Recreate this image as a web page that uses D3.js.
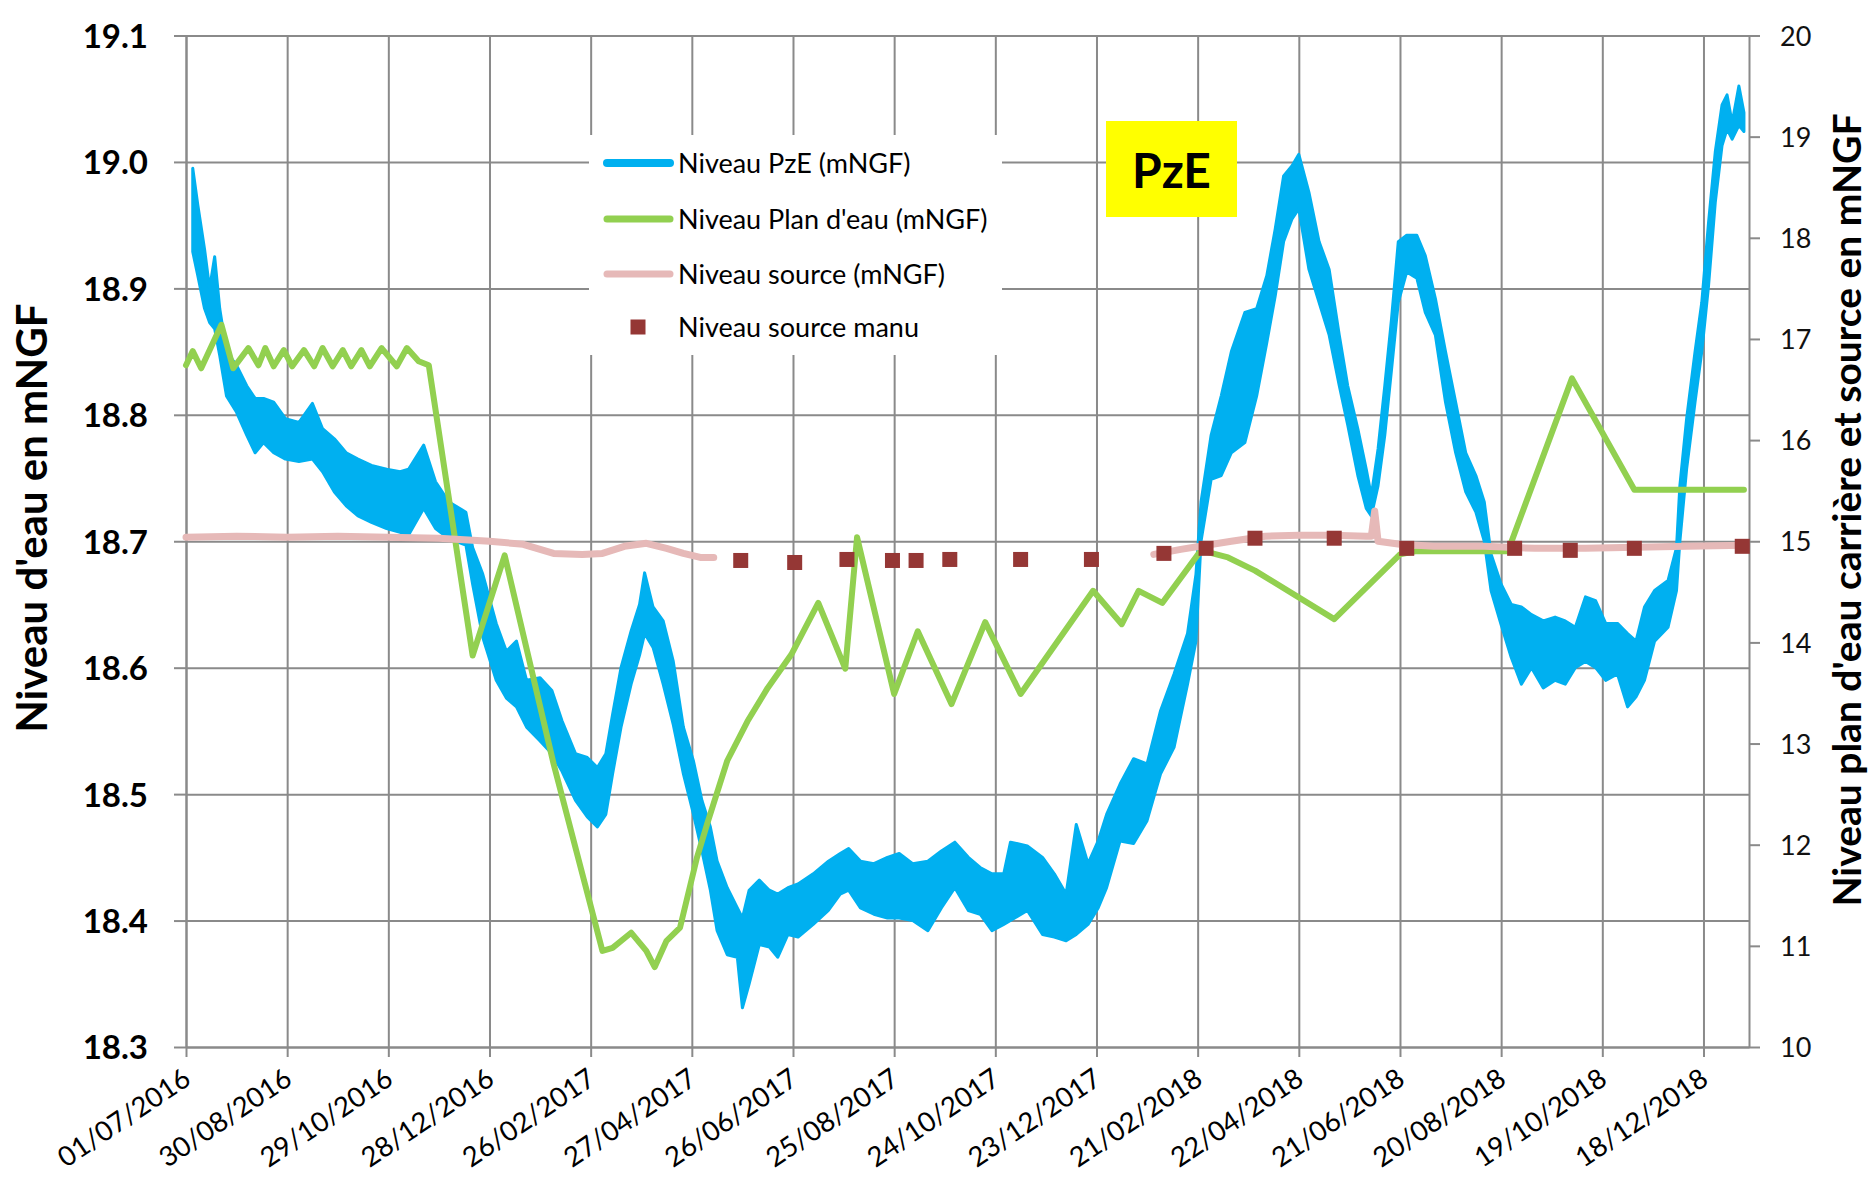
<!DOCTYPE html>
<html><head><meta charset="utf-8">
<script src="https://cdn.jsdelivr.net/npm/d3@7"></script>
<style>
html,body{margin:0;padding:0;background:#fff;}
svg{display:block;font-family:Lato,"Open Sans",sans-serif;}
</style></head>
<body>
<svg id="chart" width="1868" height="1177"></svg>
<script>
// ---------- data ----------
const startDate = "2016-07-01";   // day 0 of the day-offset arrays
const endDate = "2019-01-14";
const xTickLabels = ["01/07/2016","30/08/2016","29/10/2016","28/12/2016","26/02/2017","27/04/2017","26/06/2017","25/08/2017","24/10/2017","23/12/2017","21/02/2018","22/04/2018","21/06/2018","20/08/2018","19/10/2018","18/12/2018"];
const leftTicks = [18.3,18.4,18.5,18.6,18.7,18.8,18.9,19.0,19.1];
const rightTicks = [10,11,12,13,14,15,16,17,18,19,20];

// Niveau PzE : dense noisy record, given as upper / lower edge of the trace (days since start)
const pzeDay = [4,7,11,14,17,20,24,30,36,41,46,52,59,67,75,81,88,95,102,110,119,127,132,141,148,156,166,170,176,184,190,196,202,210,217,223,231,238,244,249,253,258,264,269,272,277,283,289,295,301,306,311,315,321,327,330,334,340,346,351,357,363,372,381,388,393,400,408,416,423,431,440,448,456,464,471,478,485,489,499,508,515,522,528,535,541,546,554,562,570,578,586,594,599,602,608,614,620,628,635,641,646,651,656,660,666,672,678,684,689,695,700,703,707,711,715,719,724,730,735,741,747,753,759,765,770,774,780,786,792,798,805,812,818,824,830,836,842,849,855,860,865,871,879,884,886,890,895,899,903,907,911,914,917,921,924];
const pzeHigh = [18.995,18.966,18.931,18.900,18.925,18.884,18.850,18.839,18.823,18.813,
18.813,18.810,18.797,18.794,18.809,18.789,18.781,18.770,18.765,18.760,
18.757,18.755,18.757,18.776,18.747,18.731,18.723,18.695,18.674,18.635,
18.613,18.621,18.590,18.592,18.582,18.558,18.532,18.529,18.521,18.532,
18.563,18.600,18.629,18.650,18.675,18.648,18.637,18.605,18.553,18.526,
18.495,18.474,18.447,18.426,18.410,18.402,18.424,18.432,18.424,18.421,
18.426,18.429,18.437,18.447,18.453,18.457,18.447,18.445,18.450,18.453,
18.445,18.447,18.455,18.462,18.450,18.442,18.437,18.437,18.462,18.459,
18.450,18.437,18.421,18.476,18.445,18.463,18.484,18.508,18.528,18.524,
18.566,18.595,18.627,18.674,18.731,18.784,18.815,18.850,18.881,18.884,
18.910,18.947,18.989,18.997,19.006,18.976,18.937,18.915,18.863,18.823,
18.789,18.757,18.736,18.773,18.823,18.876,18.937,18.942,18.942,18.926,
18.892,18.850,18.810,18.770,18.752,18.731,18.690,18.666,18.650,18.648,
18.642,18.637,18.640,18.637,18.632,18.656,18.653,18.635,18.635,18.627,
18.621,18.648,18.661,18.669,18.695,18.744,18.797,18.850,18.889,18.952,
19.008,19.045,19.053,19.031,19.060,19.039];
const pzeLow = [18.929,18.910,18.884,18.873,18.868,18.847,18.815,18.802,18.784,18.770,
18.778,18.770,18.765,18.763,18.765,18.755,18.739,18.728,18.720,18.715,
18.710,18.707,18.705,18.726,18.710,18.702,18.697,18.666,18.624,18.590,
18.576,18.569,18.553,18.542,18.532,18.518,18.495,18.482,18.474,18.484,
18.516,18.553,18.587,18.610,18.627,18.616,18.587,18.555,18.516,18.484,
18.455,18.424,18.392,18.373,18.371,18.331,18.350,18.381,18.379,18.371,
18.389,18.387,18.397,18.408,18.421,18.424,18.410,18.405,18.402,18.402,
18.400,18.392,18.410,18.426,18.408,18.405,18.392,18.397,18.400,18.408,
18.389,18.387,18.384,18.389,18.397,18.410,18.426,18.463,18.461,18.479,
18.516,18.537,18.587,18.621,18.700,18.749,18.752,18.770,18.778,18.815,
18.857,18.894,18.937,18.955,18.963,18.915,18.889,18.863,18.823,18.792,
18.752,18.726,18.720,18.744,18.784,18.836,18.889,18.913,18.908,18.881,
18.863,18.810,18.770,18.739,18.723,18.700,18.661,18.634,18.608,18.587,
18.600,18.584,18.590,18.587,18.600,18.605,18.600,18.590,18.595,18.569,
18.577,18.590,18.621,18.632,18.661,18.700,18.757,18.810,18.850,18.902,
18.968,19.013,19.026,19.018,19.029,19.024];

// Niveau Plan d'eau (right axis)
const planDay = [0,4,9,21,28,37,43,47,52,58,63,70,76,81,87,93,98,104,109,116,125,131,138,144,170,189,218,247,253,264,273,278,285,293,303,309,321,333,345,359,375,391,398,420,434,454,474,495,538,555,565,579,602,618,634,681,720,729,784,822,859,924];
const planValue = [16.74,16.88,16.71,17.14,16.71,16.91,16.74,16.91,16.73,16.89,16.73,16.89,16.73,16.91,16.73,16.89,16.73,16.89,16.73,16.91,16.73,16.91,16.78,16.74,13.87,14.86,12.8,10.95,10.98,11.13,10.95,10.79,11.05,11.18,11.87,12.2,12.83,13.22,13.55,13.88,14.39,13.74,15.04,13.49,14.11,13.39,14.2,13.49,14.51,14.18,14.51,14.39,14.91,14.84,14.71,14.23,14.87,14.9,14.9,16.61,15.51,15.51];

// Niveau source (right axis), null = gap in the record
const sourceDay = [0,30,60,90,120,150,180,200,218,235,247,260,273,285,295,305,313,314,574,590,605,620,640,660,680,700,703,705,707,720,740,770,800,830,860,890,924];
const sourceValue = [15.04,15.05,15.04,15.05,15.04,15.03,15.0,14.97,14.88,14.87,14.88,14.95,14.98,14.93,14.88,14.84,14.84,null,14.87,14.92,14.96,15.0,15.05,15.06,15.06,15.05,15.05,15.3,15.0,14.97,14.95,14.95,14.93,14.93,14.94,14.95,14.96];

// Niveau source manu (right axis)
const manuDay = [329,361,392,419,433,453,495,537,580,605,634,681,724,788,821,859,923];
const manuValue = [14.81,14.79,14.82,14.81,14.81,14.82,14.82,14.82,14.88,14.93,15.03,15.03,14.93,14.93,14.91,14.93,14.95];

const legendLabels = ["Niveau PzE (mNGF)","Niveau Plan d'eau (mNGF)","Niveau source (mNGF)","Niveau source manu"];
const titleLeft = "Niveau d'eau en mNGF";
const titleRight = "Niveau plan d'eau carrière et source en mNGF";
const boxLabel = "PzE";

// ---------- drawing ----------
const svg = d3.select("#chart");
const L = 186, R = 1749, T = 35.5, B = 1047;
const GRID = "#8a8a8a";
const C_PZE = "#00b0f0", C_PLAN = "#92d050", C_SRC = "#e6b9b8", C_MANU = "#953735";

const iso = d3.timeParse("%Y-%m-%d");
const fr = d3.timeParse("%d/%m/%Y");
const t0 = iso(startDate);
const dayToDate = d => d3.timeDay.offset(t0, d);
const tickDates = xTickLabels.map(fr);

const x = d3.scaleTime().domain([t0, iso(endDate)]).range([L, R]);
const yL = d3.scaleLinear().domain([18.3, 19.1]).range([B, T]);
const yR = d3.scaleLinear().domain([10, 20]).range([B, T]);

// grid
const gGridY = svg.append("g").attr("transform", `translate(${L},0)`)
  .call(d3.axisLeft(yL).tickValues(leftTicks).tickSize(-(R - L)).tickFormat(""));
gGridY.select(".domain").remove();
gGridY.selectAll("line").attr("stroke", GRID).attr("stroke-width", 2);
const gGridX = svg.append("g").attr("transform", `translate(0,${B})`)
  .call(d3.axisBottom(x).tickValues(tickDates).tickSize(-(B - T)).tickFormat(""));
gGridX.select(".domain").remove();
gGridX.selectAll("line").attr("stroke", GRID).attr("stroke-width", 2);

// left axis
const gL = svg.append("g").attr("transform", `translate(${L},0)`)
  .call(d3.axisLeft(yL).tickValues(leftTicks).tickFormat(d3.format(".1f")).tickSizeInner(12).tickSizeOuter(0).tickPadding(26));
gL.select(".domain").attr("stroke", GRID).attr("stroke-width", 2);
gL.selectAll("line").attr("stroke", GRID).attr("stroke-width", 2);
gL.selectAll("text").attr("font-family", "Lato").attr("font-weight", "bold").attr("font-size", 33).attr("fill", "#000").attr("dy", "0.36em");

// bottom axis
const gB = svg.append("g").attr("transform", `translate(0,${B})`)
  .call(d3.axisBottom(x).tickValues(tickDates).tickFormat(d3.timeFormat("%d/%m/%Y")).tickSizeInner(10).tickSizeOuter(0));
gB.select(".domain").attr("stroke", GRID).attr("stroke-width", 2);
gB.selectAll("line").attr("stroke", GRID).attr("stroke-width", 2);
gB.selectAll("text").attr("font-family", "Lato").attr("font-size", 27.5).attr("fill", "#000")
  .attr("x", 0).attr("y", 0).attr("dy", 0).attr("text-anchor", "end")
  .attr("transform", "translate(6,36) rotate(-34)");

// right axis
const gR = svg.append("g").attr("transform", `translate(${R},0)`)
  .call(d3.axisRight(yR).tickValues(rightTicks).tickSizeInner(11).tickSizeOuter(0).tickPadding(20));
gR.select(".domain").attr("stroke", GRID).attr("stroke-width", 2);
gR.selectAll("line").attr("stroke", GRID).attr("stroke-width", 2);
gR.selectAll("text").attr("font-family", "Lato").attr("font-size", 27).attr("fill", "#111").attr("dy", "0.36em");

// series
const pzeData = pzeDay.map((d, i) => ({date: dayToDate(d), hi: pzeHigh[i], lo: pzeLow[i]}));
svg.append("path").datum(pzeData)
  .attr("d", d3.area().x(d => x(d.date)).y0(d => yL(d.lo)).y1(d => yL(d.hi)))
  .attr("fill", C_PZE).attr("stroke", C_PZE).attr("stroke-width", 3).attr("stroke-linejoin", "round");

const planData = planDay.map((d, i) => ({date: dayToDate(d), v: planValue[i]}));
svg.append("path").datum(planData)
  .attr("d", d3.line().x(d => x(d.date)).y(d => yR(d.v)))
  .attr("fill", "none").attr("stroke", C_PLAN).attr("stroke-width", 6)
  .attr("stroke-linejoin", "round").attr("stroke-linecap", "round");

const srcData = sourceDay.map((d, i) => ({date: dayToDate(d), v: sourceValue[i]}));
svg.append("path").datum(srcData)
  .attr("d", d3.line().defined(d => d.v != null).x(d => x(d.date)).y(d => yR(d.v)))
  .attr("fill", "none").attr("stroke", C_SRC).attr("stroke-width", 7)
  .attr("stroke-linejoin", "round").attr("stroke-linecap", "round");

const SQ = 15;
svg.append("g").selectAll("rect").data(manuDay.map((d, i) => ({date: dayToDate(d), v: manuValue[i]})))
  .join("rect")
  .attr("x", d => x(d.date) - SQ / 2).attr("y", d => yR(d.v) - SQ / 2)
  .attr("width", SQ).attr("height", SQ).attr("fill", C_MANU);

// legend
const lg = svg.append("g");
lg.append("rect").attr("x", 589).attr("y", 135).attr("width", 413).attr("height", 220).attr("fill", "#fff");
const legY = [163, 219, 274, 327];
const legStyle = [
  {type: "line", color: C_PZE, w: 8},
  {type: "line", color: C_PLAN, w: 7},
  {type: "line", color: C_SRC, w: 7},
  {type: "rect", color: C_MANU}
];
legStyle.forEach((s, i) => {
  if (s.type === "line") {
    lg.append("line").attr("x1", 607).attr("x2", 670).attr("y1", legY[i]).attr("y2", legY[i])
      .attr("stroke", s.color).attr("stroke-width", s.w).attr("stroke-linecap", "round");
  } else {
    lg.append("rect").attr("x", 638 - SQ / 2).attr("y", legY[i] - SQ / 2).attr("width", SQ).attr("height", SQ).attr("fill", s.color);
  }
  lg.append("text").attr("x", 678).attr("y", legY[i]).attr("dy", "0.36em")
    .attr("font-family", "Lato").attr("font-size", 27).attr("fill", "#000").text(legendLabels[i]);
});

// PzE box
svg.append("rect").attr("x", 1106).attr("y", 121).attr("width", 131).attr("height", 96).attr("fill", "#ffff00");
svg.append("text").attr("x", 1171.5).attr("y", 188).attr("text-anchor", "middle")
  .attr("font-family", "Lato").attr("font-weight", "bold").attr("font-size", 48).attr("fill", "#000").text(boxLabel);

// axis titles
svg.append("text").attr("transform", "translate(32,518) rotate(-90)")
  .attr("text-anchor", "middle").attr("dy", "0.36em")
  .attr("font-family", "Lato").attr("font-weight", "bold").attr("font-size", 42).attr("fill", "#000").text(titleLeft);
svg.append("text").attr("transform", "translate(1847,510) rotate(-90)")
  .attr("text-anchor", "middle").attr("dy", "0.36em")
  .attr("font-family", "Lato").attr("font-weight", "bold").attr("font-size", 39).attr("fill", "#000").text(titleRight);
</script>
</body></html>
